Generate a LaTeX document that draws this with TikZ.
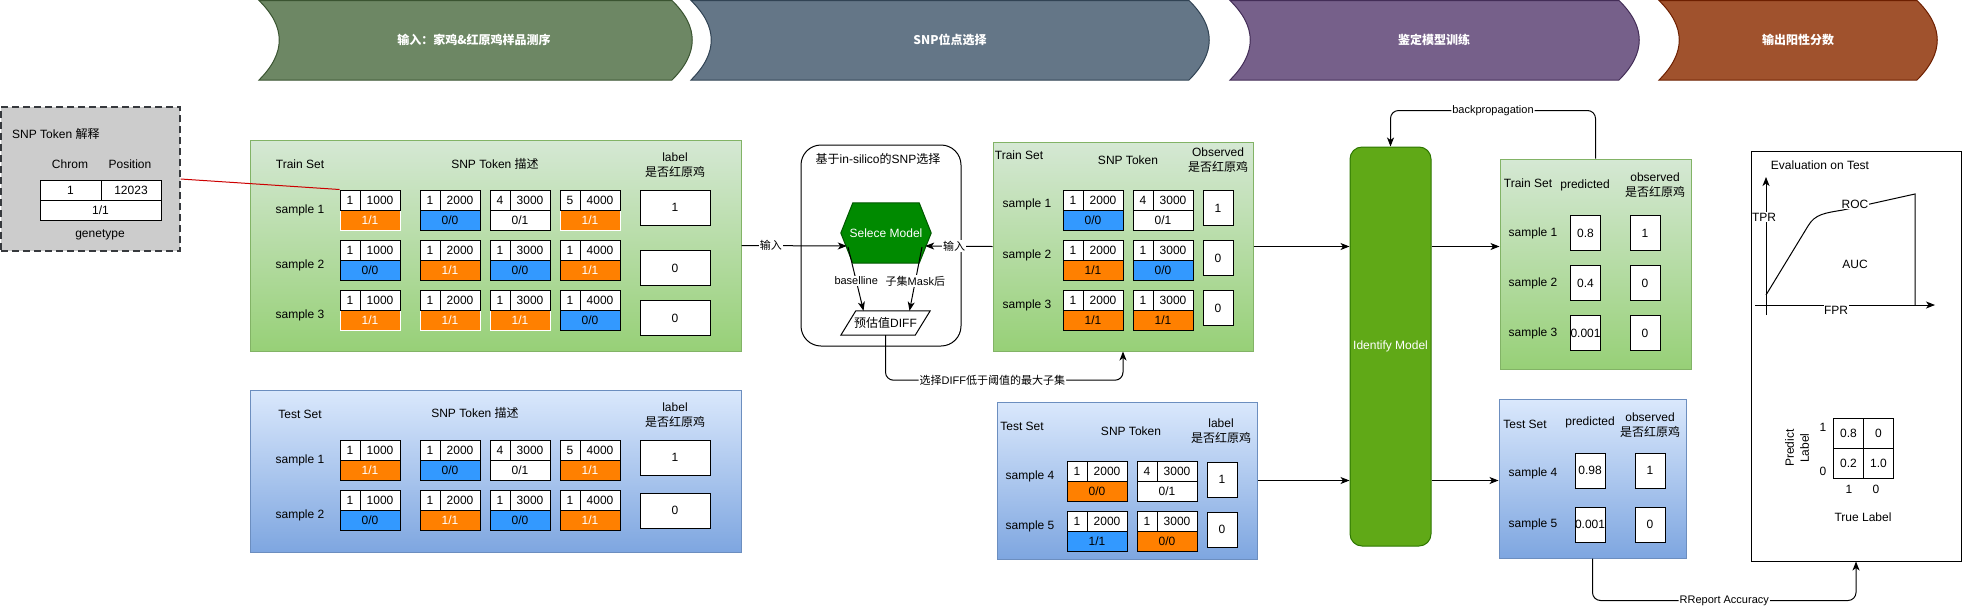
\documentclass[tikz,border=0pt]{standalone}
\usepackage{fontspec}
\setmainfont{Liberation Sans}
\newfontfamily\cjk{Noto Sans CJK SC}
\usetikzlibrary{arrows.meta,calc}
\definecolor{orgc}{HTML}{FF8000}
\definecolor{bluc}{HTML}{3399FF}
\definecolor{grnA}{HTML}{D5E8D4}
\definecolor{grnB}{HTML}{97D077}
\definecolor{grnS}{HTML}{82B366}
\definecolor{bluA}{HTML}{DAE8FC}
\definecolor{bluB}{HTML}{7EA6E0}
\definecolor{bluS}{HTML}{6C8EBF}
\definecolor{chG}{HTML}{6D8764}
\definecolor{chGs}{HTML}{3A5431}
\definecolor{chB}{HTML}{647687}
\definecolor{chBs}{HTML}{314354}
\definecolor{chP}{HTML}{76608A}
\definecolor{chPs}{HTML}{432D57}
\definecolor{chR}{HTML}{A0522D}
\definecolor{chRs}{HTML}{6D1F00}
\definecolor{hexg}{HTML}{008A00}
\definecolor{hexs}{HTML}{005700}
\definecolor{idg}{HTML}{60A917}
\definecolor{ids}{HTML}{2D7600}
\definecolor{gry}{HTML}{CCCCCC}
\definecolor{grys}{HTML}{36393D}
\definecolor{redl}{HTML}{CC0000}
\newcommand\snptok[7]{%
  \node[cG,#7] (#1c) at ({#2+30},{#3+30}) {#6};
  \node[cA] (#1a) at ({#2+10},{#3+10}) {#4};
  \node[cB] (#1b) at ({#2+40},{#3+10}) {#5};
}
\begin{document}
\begin{tikzpicture}[x=1pt,y=-1pt,
  f12/.style={font=\fontsize{12}{15}\selectfont},
  f11/.style={font=\fontsize{11}{13}\selectfont},
  txt/.style={f12, inner sep=0, align=center},
  cell/.style={draw=black, fill=white, line width=1pt, inner sep=0, f12},
  cA/.style={cell, minimum width=20, minimum height=20},
  cB/.style={cell, minimum width=40, minimum height=20},
  cG/.style={cell, minimum width=60, minimum height=20},
  org/.style={fill=orgc, text=white},
  orgk/.style={fill=orgc},
  orgw/.style={fill=orgc, draw=white, text=white},
  blu/.style={fill=bluc},
  wht/.style={},
  lab/.style={cell, minimum width=70, minimum height=35},
  slab/.style={cell, minimum width=30, minimum height=35},
  gbox/.style={draw=grnS, top color=grnA, bottom color=grnB, line width=1pt, inner sep=0},
  bbox/.style={draw=bluS, top color=bluA, bottom color=bluB, line width=1pt, inner sep=0},
  chtxt/.style={text=white, inner sep=0, font=\fontsize{12}{15}\selectfont\cjk\bfseries},
  con/.style={draw=black, line width=1pt},
  arr/.style={con, -{Stealth[length=9pt,width=7pt,inset=2.5pt]}},
  elab/.style={f11, fill=white, inner sep=1pt},
]
\useasboundingbox (0,0) rectangle (1962,611);

% ---------- chevrons ----------
\filldraw[fill=chG, draw=chGs, line width=1pt] (259,0.5) -- (672,0.5) .. controls (699,27) and (699,53) .. (672,80) -- (259,80) .. controls (286,53) and (286,27) .. (259,0.5) -- cycle;
\node[chtxt] (ch1) at (474,40) {输入：家鸡\&红原鸡样品测序};
\filldraw[fill=chB, draw=chBs, line width=1pt] (691,0.5) -- (1189,0.5) .. controls (1216,27) and (1216,53) .. (1189,80) -- (691,80) .. controls (718,53) and (718,27) .. (691,0.5) -- cycle;
\node[chtxt] (ch2) at (950,40) {SNP位点选择};
\filldraw[fill=chP, draw=chPs, line width=1pt] (1230,0.5) -- (1619,0.5) .. controls (1646,27) and (1646,53) .. (1619,80) -- (1230,80) .. controls (1257,53) and (1257,27) .. (1230,0.5) -- cycle;
\node[chtxt] (ch3) at (1434,40) {鉴定模型训练};
\filldraw[fill=chR, draw=chRs, line width=1pt] (1659,0.5) -- (1917,0.5) .. controls (1944,27) and (1944,53) .. (1917,80) -- (1659,80) .. controls (1686,53) and (1686,27) .. (1659,0.5) -- cycle;
\node[chtxt] (ch4) at (1798,40) {输出阳性分数};

% ---------- SNP token explanation ----------
\node[draw=grys, fill=gry, dash pattern=on 7pt off 4pt, line width=1.3pt, minimum width=179, minimum height=144, inner sep=0] (snpbox) at (90.5,179) {};
\node[txt, anchor=west] (snpt) at (12,134) {SNP Token {\cjk 解释}};
\node[txt] (snpch) at (70,164) {Chrom};
\node[txt] (snpps) at (130,164) {Position};
\node[cell, minimum width=61, minimum height=20] (snpA) at (70.5,190) {1};
\node[cell, minimum width=60, minimum height=20] (snpB) at (131,190) {12023};
\node[cell, minimum width=121, minimum height=20] (snpC) at (100.5,210) {1/1};
\node[txt] (snpg) at (100,235) {genetype};

% ---------- Train set 1 ----------
\node[gbox, minimum width=491, minimum height=211] (trbox) at (495.5,245.5) {};
\node[txt] (a_t) at (300,164) {Train Set};
\node[txt] (a_h) at (495,164) {SNP Token {\cjk 描述}};
\node[txt] (a_l) at (675,165.5) {label\\{\cjk 是否红原鸡}};
\node[txt] (a_s1) at (300,210) {sample 1};
\node[txt] (a_s2) at (300,265) {sample 2};
\node[txt] (a_s3) at (300,315) {sample 3};
\snptok{a11}{340}{190}{1}{1000}{1/1}{orgw}
\snptok{a12}{420}{190}{1}{2000}{0/0}{blu}
\snptok{a13}{490}{190}{4}{3000}{0/1}{wht}
\snptok{a14}{560}{190}{5}{4000}{1/1}{orgw}
\snptok{a21}{340}{240}{1}{1000}{0/0}{blu}
\snptok{a22}{420}{240}{1}{2000}{1/1}{org}
\snptok{a23}{490}{240}{1}{3000}{0/0}{blu}
\snptok{a24}{560}{240}{1}{4000}{1/1}{org}
\snptok{a31}{340}{290}{1}{1000}{1/1}{orgw}
\snptok{a32}{420}{290}{1}{2000}{1/1}{orgw}
\snptok{a33}{490}{290}{1}{3000}{1/1}{orgw}
\snptok{a34}{560}{290}{1}{4000}{0/0}{blu}
\node[lab] (aL1) at (675,207.5) {1};
\node[lab] (aL2) at (675,268) {0};
\node[lab] (aL3) at (675,318) {0};

% ---------- Test set 1 ----------
\node[bbox, minimum width=491, minimum height=162] (tebox) at (495.5,471) {};
\node[txt] (b_t) at (300,414) {Test Set};
\node[txt] (b_h) at (475,413) {SNP Token {\cjk 描述}};
\node[txt] (b_l) at (675,415.5) {label\\{\cjk 是否红原鸡}};
\node[txt] (b_s1) at (300,460) {sample 1};
\node[txt] (b_s2) at (300,515) {sample 2};
\snptok{b11}{340}{440}{1}{1000}{1/1}{org}
\snptok{b12}{420}{440}{1}{2000}{0/0}{blu}
\snptok{b13}{490}{440}{4}{3000}{0/1}{wht}
\snptok{b14}{560}{440}{5}{4000}{1/1}{org}
\snptok{b21}{340}{490}{1}{1000}{0/0}{blu}
\snptok{b22}{420}{490}{1}{2000}{1/1}{org}
\snptok{b23}{490}{490}{1}{3000}{0/0}{blu}
\snptok{b24}{560}{490}{1}{4000}{1/1}{org}
\node[lab] (bL1) at (675,457.5) {1};
\node[lab] (bL2) at (675,510.5) {0};

% ---------- in-silico selection ----------
\node[draw=black, fill=white, line width=1pt, rounded corners=20, minimum width=160, minimum height=201, inner sep=0] (insil) at (881,245.5) {};
\node[txt] (insilt) at (878,159) {{\cjk 基于}in-silico{\cjk 的}SNP{\cjk 选择}};
\node[minimum width=90, minimum height=60, inner sep=0] (hex) at (886,233) {};
\filldraw[fill=hexg, draw=hexs, line width=1pt] (hex.west) -- ([xshift=12]hex.north west) -- ([xshift=-12]hex.north east) -- (hex.east) -- ([xshift=-12]hex.south east) -- ([xshift=12]hex.south west) -- cycle;
\node[f12, text=white, inner sep=0] (hext) at (hex) {Selece Model};
\node[minimum width=89, minimum height=24, inner sep=0] (para) at (885.5,323) {};
\filldraw[fill=white, draw=black, line width=1pt] ([xshift=15]para.north west) -- (para.north east) -- ([xshift=-15]para.south east) -- (para.south west) -- cycle;
\node[f12, inner sep=0] (parat) at (para) {{\cjk 预估值}DIFF};

% ---------- Train set 2 ----------
\node[gbox, minimum width=260, minimum height=209] (tr2box) at (1123,246.5) {};
\node[txt] (c_t) at (1019,155) {Train Set};
\node[txt] (c_h) at (1128,160) {SNP Token};
\node[txt] (c_l) at (1218,160.5) {Observed\\{\cjk 是否红原鸡}};
\node[txt] (c_s1) at (1027,204) {sample 1};
\node[txt] (c_s2) at (1027,255) {sample 2};
\node[txt] (c_s3) at (1027,305) {sample 3};
\snptok{c11}{1063}{190}{1}{2000}{0/0}{blu}
\snptok{c12}{1133}{190}{4}{3000}{0/1}{wht}
\snptok{c21}{1063}{240}{1}{2000}{1/1}{orgk}
\snptok{c22}{1133}{240}{1}{3000}{0/0}{blu}
\snptok{c31}{1063}{290}{1}{2000}{1/1}{orgk}
\snptok{c32}{1133}{290}{1}{3000}{1/1}{orgk}
\node[slab] (cL1) at (1218,208) {1};
\node[slab] (cL2) at (1218,258) {0};
\node[slab] (cL3) at (1218,308) {0};

% ---------- Test set 2 ----------
\node[bbox, minimum width=260, minimum height=157] (te2box) at (1127,480.5) {};
\node[txt] (d_t) at (1022,426) {Test Set};
\node[txt] (d_h) at (1131,431) {SNP Token};
\node[txt] (d_l) at (1221,431.5) {label\\{\cjk 是否红原鸡}};
\node[txt] (d_s1) at (1030,476) {sample 4};
\node[txt] (d_s2) at (1030,526) {sample 5};
\snptok{d11}{1067}{461}{1}{2000}{0/0}{orgk}
\snptok{d12}{1137}{461}{4}{3000}{0/1}{wht}
\snptok{d21}{1067}{511}{1}{2000}{1/1}{blu}
\snptok{d22}{1137}{511}{1}{3000}{0/0}{orgk}
\node[slab] (dL1) at (1222,479.5) {1};
\node[slab] (dL2) at (1222,529.5) {0};

% ---------- Identify model ----------
\node[draw=ids, fill=idg, line width=1pt, rounded corners=12, minimum width=81, minimum height=399, inner sep=0, f12, text=white] (idm) at (1390.5,346.5) {Identify Model};

% ---------- predicted train ----------
\node[gbox, minimum width=191, minimum height=210] (ptrain) at (1595.5,264) {};
\node[txt] (e_t) at (1528,183) {Train Set};
\node[txt] (e_p) at (1585,185) {predicted};
\node[txt] (e_o) at (1655,185.5) {observed\\{\cjk 是否红原鸡}};
\node[txt] (e_s1) at (1533,233) {sample 1};
\node[txt] (e_s2) at (1533,283) {sample 2};
\node[txt] (e_s3) at (1533,333) {sample 3};
\node[slab] (eP1) at (1585.5,233) {0.8};
\node[slab] (eP2) at (1585.5,283) {0.4};
\node[slab] (eP3) at (1585.5,333) {0.001};
\node[slab] (eO1) at (1645,233) {1};
\node[slab] (eO2) at (1645,283) {0};
\node[slab] (eO3) at (1645,333) {0};

% ---------- predicted test ----------
\node[bbox, minimum width=187, minimum height=159] (ptest) at (1592.5,478.5) {};
\node[txt] (f_t) at (1525,424) {Test Set};
\node[txt] (f_p) at (1590,422) {predicted};
\node[txt] (f_o) at (1650,425) {observed\\{\cjk 是否红原鸡}};
\node[txt] (f_s1) at (1533,473) {sample 4};
\node[txt] (f_s2) at (1533,524) {sample 5};
\node[slab] (fP1) at (1590,470.5) {0.98};
\node[slab] (fP2) at (1590,524.5) {0.001};
\node[slab] (fO1) at (1650,470.5) {1};
\node[slab] (fO2) at (1650,524.5) {0};

% ---------- evaluation ----------
\node[draw=black, fill=white, line width=1pt, minimum width=210, minimum height=410, inner sep=0] (evalb) at (1856,356) {};
\node[txt] (evt) at (1820,165) {Evaluation on Test};
\draw[arr] (1766,315) -- (1766,177);
\draw[arr] (1755,305) -- (1935,305);
\node[elab, f12, inner sep=0.5pt] (tpr) at (1764,217) {TPR};
\node[elab, f12, inner sep=0.5pt] (fpr) at (1836,310) {FPR};
\draw[con] (1766,295) -- (1808,226) .. controls (1815,214) and (1825,213) .. (1843,210) -- (1915,194) -- (1915,305);
\node[elab, f12, inner sep=0.5pt] (roc) at (1855,204) {ROC};
\node[txt] (auc) at (1855,264) {AUC};
\node[cell, minimum width=30, minimum height=30] (cm11) at (1848.5,433) {0.8};
\node[cell, minimum width=30, minimum height=30] (cm12) at (1878.5,433) {0};
\node[cell, minimum width=30, minimum height=30] (cm21) at (1848.5,463) {0.2};
\node[cell, minimum width=30, minimum height=30] (cm22) at (1878.5,463) {1.0};
\node[txt] (cmr1) at (1823,427) {1};
\node[txt] (cmr0) at (1823,471) {0};
\node[txt] (cmc1) at (1849,489) {1};
\node[txt] (cmc0) at (1876,489) {0};
\node[txt, rotate=90] (cmpl) at (1797,448) {Predict\\Label};
\node[txt] (cmtl) at (1863,517) {True Label};

% ---------- connectors ----------
\draw[redl, line width=1pt] (snpbox.east) -- (a11a.north west);
\draw[arr] (trbox.east) -- node[elab, pos=0.28] (in1) {\cjk 输入} ($(hex.west)+(6,13)$);
\draw[arr] (tr2box.west) -- node[elab, pos=0.57] (in2) {\cjk 输入} ($(hex.east)+(-6,13)$);
\draw[arr] ($(hex.center)+(-38,14)$) -- node[elab, pos=0.53] (lb1) {baselline} ($(para.north)+(-22,0)$);
\draw[arr] ($(hex.center)+(36,14)$) -- node[elab, pos=0.53] (lb2) {{\cjk 子集}Mask{\cjk 后}} ($(para.north)+(24,0)$);
\draw[arr, rounded corners=8] (para.south) -- ++(0,45) -| node[elab, pos=0.225] (sel) {{\cjk 选择}DIFF{\cjk 低于阈值的最大子集}} (tr2box.south);
\draw[arr] (tr2box.east) -- (tr2box.east -| idm.west);
\draw[arr] (te2box.east) -- (te2box.east -| idm.west);
\draw[arr] (idm.east |- tr2box.east) -- (ptrain.west |- tr2box.east);
\draw[arr] (idm.east |- te2box.east) -- (ptest.west |- te2box.east);
\draw[arr, rounded corners=8] (ptrain.north) -- ++(0,-48) -| node[elab, pos=0.25] (bp) {backpropagation} (idm.north);
\draw[arr, rounded corners=8] (ptest.south) -- ++(0,42) -| node[elab, pos=0.25] (rr) {RReport Accuracy} (evalb.south);
\end{tikzpicture}
\end{document}
